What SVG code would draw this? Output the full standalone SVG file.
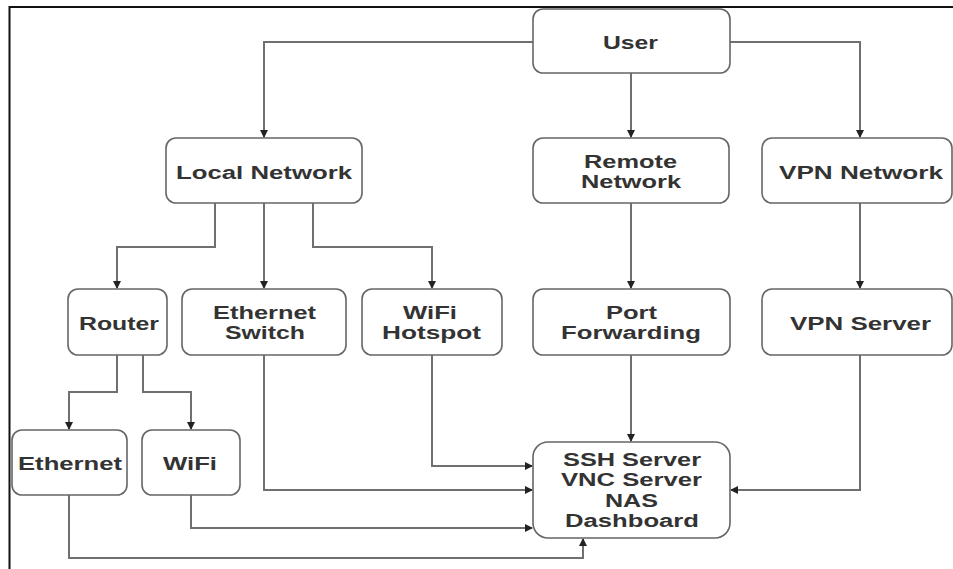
<svg xmlns="http://www.w3.org/2000/svg" width="953" height="569" viewBox="0 0 953 569">
<defs>
<style>
.box{fill:#fff;stroke:#666;stroke-width:1.6}
.lbl{font-family:"Liberation Sans",Arial,sans-serif;font-weight:bold;font-size:18px;fill:#333;text-anchor:start}
.con{fill:none;stroke:#707070;stroke-width:2}
</style>
<marker id="ah" markerWidth="10" markerHeight="10" refX="7" refY="4" orient="auto" markerUnits="userSpaceOnUse">
<path d="M0,0 L8,4 L0,8 Z" fill="#222"/>
</marker>
</defs>
<rect x="0" y="0" width="953" height="569" fill="#fff"/>
<path d="M9.5,569 V7 H953" fill="none" stroke="#111" stroke-width="2"/>

<g id="connectors">
<path class="con" marker-end="url(#ah)" d="M533,42 H264 V137"/>
<path class="con" marker-end="url(#ah)" d="M631,73 V137"/>
<path class="con" marker-end="url(#ah)" d="M730,42 H860 V137"/>
<path class="con" marker-end="url(#ah)" d="M215,203 V247 H117 V288"/>
<path class="con" marker-end="url(#ah)" d="M264,203 V288"/>
<path class="con" marker-end="url(#ah)" d="M313,203 V247 H432 V288"/>
<path class="con" marker-end="url(#ah)" d="M631,203 V288"/>
<path class="con" marker-end="url(#ah)" d="M860,203 V288"/>
<path class="con" marker-end="url(#ah)" d="M117,355 V392 H69 V429"/>
<path class="con" marker-end="url(#ah)" d="M143,355 V392 H191 V429"/>
<path class="con" marker-end="url(#ah)" d="M264,355 V490 H532"/>
<path class="con" marker-end="url(#ah)" d="M432,355 V466 H532"/>
<path class="con" marker-end="url(#ah)" d="M191,495 V528 H532"/>
<path class="con" marker-end="url(#ah)" d="M69,495 V558 H583 V539"/>
<path class="con" marker-end="url(#ah)" d="M631,355 V441"/>
<path class="con" marker-end="url(#ah)" d="M860,355 V490 H731"/>
</g>

<g id="user"><rect class="box" x="533" y="9" width="197" height="64" rx="10"/>
<text class="lbl" x="603" y="49" textLength="55" lengthAdjust="spacingAndGlyphs">User</text></g>

<g id="local-network"><rect class="box" x="166" y="138" width="196" height="65" rx="10"/>
<text class="lbl" x="176" y="179" textLength="176" lengthAdjust="spacingAndGlyphs">Local Network</text></g>

<g id="remote-network"><rect class="box" x="533" y="138" width="196" height="65" rx="10"/>
<text class="lbl" x="584" y="168" textLength="93" lengthAdjust="spacingAndGlyphs">Remote</text>
<text class="lbl" x="581" y="188" textLength="100" lengthAdjust="spacingAndGlyphs">Network</text></g>

<g id="vpn-network"><rect class="box" x="762" y="138" width="190" height="65" rx="10"/>
<text class="lbl" x="779" y="179" textLength="164" lengthAdjust="spacingAndGlyphs">VPN Network</text></g>

<g id="router"><rect class="box" x="68" y="289" width="99" height="66" rx="10"/>
<text class="lbl" x="79" y="330" textLength="80" lengthAdjust="spacingAndGlyphs">Router</text></g>

<g id="ethernet-switch"><rect class="box" x="182" y="289" width="164" height="66" rx="10"/>
<text class="lbl" x="213" y="319" textLength="103" lengthAdjust="spacingAndGlyphs">Ethernet</text>
<text class="lbl" x="225" y="339" textLength="80" lengthAdjust="spacingAndGlyphs">Switch</text></g>

<g id="wifi-hotspot"><rect class="box" x="362" y="289" width="140" height="66" rx="10"/>
<text class="lbl" x="403" y="319" textLength="54" lengthAdjust="spacingAndGlyphs">WiFi</text>
<text class="lbl" x="382" y="339" textLength="99" lengthAdjust="spacingAndGlyphs">Hotspot</text></g>

<g id="port-forwarding"><rect class="box" x="533" y="289" width="197" height="66" rx="10"/>
<text class="lbl" x="606" y="319" textLength="51" lengthAdjust="spacingAndGlyphs">Port</text>
<text class="lbl" x="561" y="339" textLength="140" lengthAdjust="spacingAndGlyphs">Forwarding</text></g>

<g id="vpn-server"><rect class="box" x="762" y="289" width="190" height="66" rx="10"/>
<text class="lbl" x="790" y="330" textLength="141" lengthAdjust="spacingAndGlyphs">VPN Server</text></g>

<g id="ethernet"><rect class="box" x="12" y="430" width="115" height="65" rx="10"/>
<text class="lbl" x="18" y="470" textLength="104" lengthAdjust="spacingAndGlyphs">Ethernet</text></g>

<g id="wifi"><rect class="box" x="142" y="430" width="98" height="65" rx="10"/>
<text class="lbl" x="163" y="470" textLength="54" lengthAdjust="spacingAndGlyphs">WiFi</text></g>

<g id="services"><rect class="box" x="533" y="442" width="197" height="96" rx="15"/>
<text class="lbl" x="563" y="466" textLength="138" lengthAdjust="spacingAndGlyphs">SSH Server</text>
<text class="lbl" x="561" y="486" textLength="141" lengthAdjust="spacingAndGlyphs">VNC Server</text>
<text class="lbl" x="605" y="507" textLength="53" lengthAdjust="spacingAndGlyphs">NAS</text>
<text class="lbl" x="565" y="527" textLength="134" lengthAdjust="spacingAndGlyphs">Dashboard</text></g>
</svg>
